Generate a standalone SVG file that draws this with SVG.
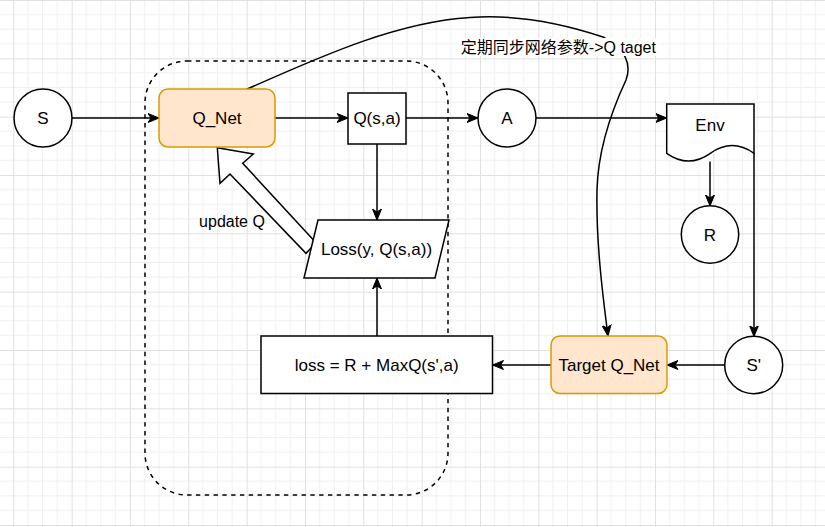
<svg xmlns="http://www.w3.org/2000/svg" width="825" height="527" viewBox="0 0 825 527">
<style>
text{font-family:"Liberation Sans",Arial,"Noto Sans CJK SC",sans-serif;font-size:17px;fill:#000;text-anchor:middle}
.lbl{font-size:16px}
.shape{fill:#fff;stroke:#000;stroke-width:1.5}
.orange{fill:#ffe6cc;stroke:#d79b00;stroke-width:1.5}
.edge{fill:none;stroke:#000;stroke-width:1.5;marker-end:url(#arr)}
</style>
<defs>
<marker id="arr" markerUnits="userSpaceOnUse" markerWidth="13" markerHeight="11" refX="11" refY="5" orient="auto">
<path d="M0,0.5 L11,5 L0,9.5 L3,5 Z" fill="#000" stroke="#000" stroke-width="1"/>
</marker>
<pattern id="grid" patternUnits="userSpaceOnUse" x="13.333" y="0" width="58.333" height="58.333">
<path d="M14.583,0V58.333M29.167,0V58.333M43.75,0V58.333M0,14.583H58.333M0,29.167H58.333M0,43.75H58.333" stroke="#f0f0f0" stroke-width="1"/>
<path d="M0.5,0V58.333M0,0.5H58.333" stroke="#e0e0e0" stroke-width="1"/>
</pattern>
</defs>
<rect width="825" height="527" fill="#fff"/>
<rect width="825" height="527" fill="url(#grid)"/>

<g id="container">
<rect x="145" y="61" width="303" height="434" rx="42" fill="none" stroke="#000" stroke-width="1.5" stroke-dasharray="4.4 4.4"/>
</g>

<g id="connectors">
<path class="edge" d="M72,118 H159"/>
<path class="edge" d="M275,118 H348"/>
<path class="edge" d="M406,118 H478"/>
<path class="edge" d="M536,118 H666.7"/>
<path class="edge" d="M377,144 V220"/>
<path class="edge" d="M377,336 V278"/>
<path class="edge" d="M710,161.5 V206"/>
<path class="edge" d="M754,153 V336.5"/>
<path class="edge" d="M724.5,365 H667"/>
<path class="edge" d="M551,365 H492.5"/>
<path class="edge" d="M246.7,89.3 C330,52 400,22 470,17.5 C520,14 570,26 603,37 C625,48 632,64 626,80 C612,110 598,150 597,190 C596,240 602,290 608,336"/>
<g id="sync-label">
<rect x="459" y="38" width="199" height="18" fill="#fff"/>
<text class="lbl" x="558.4" y="53">定期同步网络参数-&gt;Q taget</text>
</g>
</g>

<g id="update-arrow">
<polygon points="217.3,147.7 253.3,154 242.7,163.3 316,242.7 306,253.3 230,174 220,183.3" fill="#fff" stroke="#000" stroke-width="1.5" stroke-linejoin="miter"/>
<text class="lbl" x="232" y="226.5">update Q</text>
</g>

<g id="node-S">
<circle class="shape" cx="43" cy="118" r="29"/>
<text x="43" y="124">S</text>
</g>
<g id="node-QNet">
<rect class="orange" x="159" y="89" width="116" height="58" rx="9"/>
<text x="217" y="124">Q_Net</text>
</g>
<g id="node-Qsa">
<rect class="shape" x="348" y="93" width="58" height="51"/>
<text x="377" y="124">Q(s,a)</text>
</g>
<g id="node-A">
<circle class="shape" cx="507" cy="118" r="29"/>
<text x="507" y="124">A</text>
</g>
<g id="node-Env">
<path class="shape" d="M666.7,104 H754 V153.3 Q732.2,137.8 710.3,153.3 Q688.5,168.8 666.7,153.3 Z"/>
<text x="710" y="131">Env</text>
</g>
<g id="node-R">
<circle class="shape" cx="710" cy="234.5" r="28.7"/>
<text x="710" y="240.5">R</text>
</g>
<g id="node-Loss">
<polygon class="shape" points="318,220 449,220 435,278 304,278"/>
<text x="376.5" y="255">Loss(y, Q(s,a))</text>
</g>
<g id="node-lossEq">
<rect class="shape" x="261" y="336" width="231.5" height="57.5"/>
<text x="376.7" y="371">loss = R + MaxQ(s',a)</text>
</g>
<g id="node-Target">
<rect class="orange" x="551" y="336" width="116" height="57.5" rx="9"/>
<text x="609" y="371">Target Q_Net</text>
</g>
<g id="node-Sprime">
<ellipse class="shape" cx="753.7" cy="365" rx="29" ry="28.7"/>
<text x="753.7" y="371">S'</text>
</g>
</svg>
